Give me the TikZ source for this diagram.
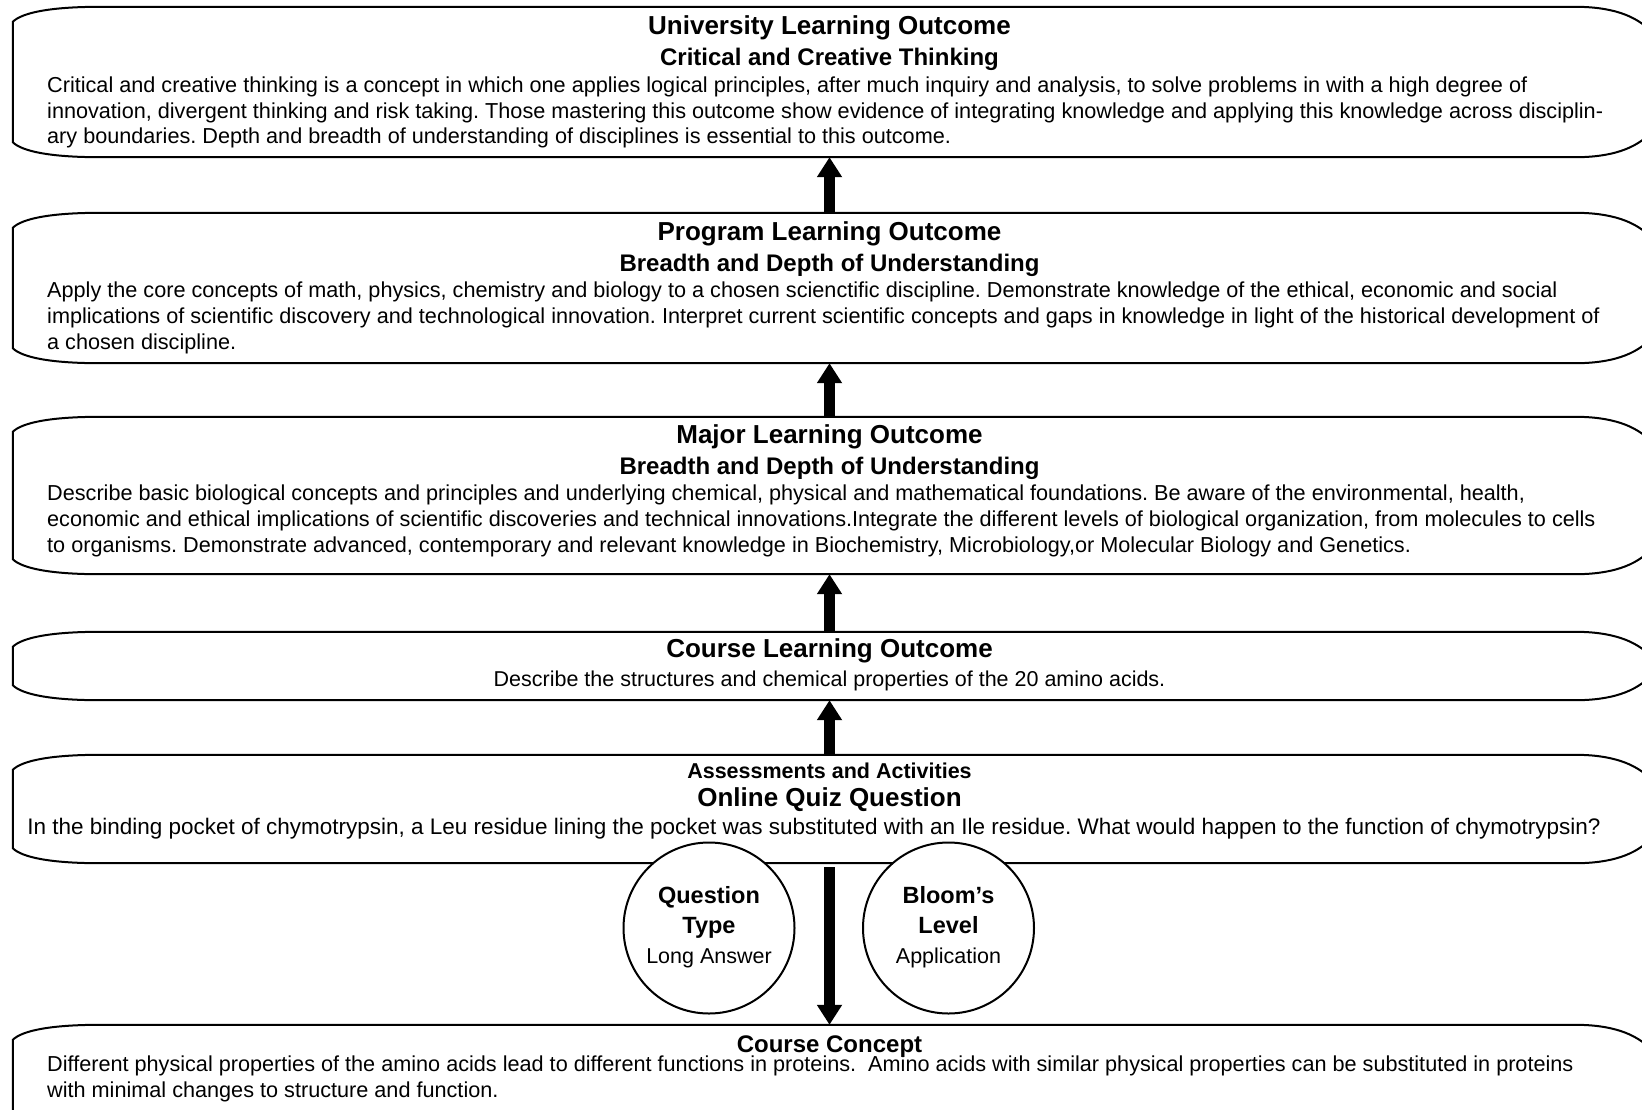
\documentclass[tikz,border=0pt]{standalone}
\usepackage{fontspec}
\setmainfont{Liberation Sans}
\usetikzlibrary{arrows.meta}
\frenchspacing
\tikzset{
  boxarea/.style={draw=none, inner sep=0, minimum width=1633pt},
  boxline/.style={draw=black, line width=2pt, fill=white},
  ttl/.style={font=\bfseries\fontsize{26}{30}\selectfont, inner sep=0, anchor=base},
  sub/.style={font=\bfseries\fontsize{24}{28}\selectfont, inner sep=0, anchor=base},
  small/.style={font=\bfseries\fontsize{21.5}{26}\selectfont, inner sep=0, anchor=base},
  body/.style={font=\frenchspacing\fontsize{21.65}{25.7}\selectfont, inner sep=0, anchor=base west, align=left},
  bodyc/.style={font=\frenchspacing\fontsize{21.5}{25.7}\selectfont, inner sep=0, anchor=base},
  bigarrow/.style={line width=11pt, -{Triangle[length=20pt,width=24pt]}},
  circ/.style={circle, draw=black, line width=2pt, fill=white, minimum size=171pt, inner sep=0},
  clab/.style={font=\bfseries\fontsize{23.5}{28}\selectfont, inner sep=0, anchor=base},
  cval/.style={font=\fontsize{21.5}{26}\selectfont, inner sep=0, anchor=base},
}
\newcommand\boxnode[3]{%
  \node[boxarea, minimum height={(#3-#2)*1pt}] (#1) at (829.5,{(#2+#3)/2}) {};}
\newcommand\scrollpath[1]{%
  \draw[boxline] ([xshift=87pt]#1.north west) -- ([xshift=-71pt]#1.north east)
   .. controls ([xshift=-36pt]#1.north east) and ([xshift=-10pt,yshift=-8pt]#1.north east) .. ([xshift=6pt,yshift=-26pt]#1.north east)
   -- ([xshift=6pt,yshift=26pt]#1.south east)
   .. controls ([xshift=-10pt,yshift=8pt]#1.south east) and ([xshift=-36pt]#1.south east) .. ([xshift=-71pt]#1.south east)
   -- ([xshift=87pt]#1.south west)
   .. controls ([xshift=37pt]#1.south west) and ([xshift=9pt,yshift=6pt]#1.south west) .. ([yshift=15pt]#1.south west)
   -- ([yshift=-15pt]#1.north west)
   .. controls ([xshift=9pt,yshift=-6pt]#1.north west) and ([xshift=37pt]#1.north west) .. ([xshift=87pt]#1.north west) -- cycle;}
\begin{document}
\begin{tikzpicture}[x=1pt,y=-1pt]
\useasboundingbox[fill=white] (0,0) rectangle (1642,1109);
\begin{scope}
\clip (0,0) rectangle (1642,1109);
\boxnode{b1}{7}{157}
\boxnode{b2}{213}{363}
\boxnode{b3}{417}{574}
\boxnode{b4}{632}{700}
\boxnode{b5}{755}{863}
\boxnode{b6}{1025}{1160}
\scrollpath{b1}
\scrollpath{b2}
\scrollpath{b3}
\scrollpath{b4}
\scrollpath{b5}
\scrollpath{b6}

\draw[bigarrow] (b2.north) -- (b1.south);
\draw[bigarrow] (b3.north) -- (b2.south);
\draw[bigarrow] (b4.north) -- (b3.south);
\draw[bigarrow] (b5.north) -- (b4.south);
\draw[bigarrow] ([yshift=-4pt]b5.south) -- (b6.north);

\node[circ] (qt) at (709,928) {};
\node[circ] (bl) at (948.5,928) {};
\end{scope}

% box 1
\node[ttl] (t1) at (829.5,34) {University Learning Outcome};
\node[sub] (s1) at (829.5,65) {Critical and Creative Thinking};
\node[body] (d1) at (47,143.9) {Critical and creative thinking is a concept in which one applies logical principles, after much inquiry and analysis, to solve problems in with a high degree of\\
innovation, divergent thinking and risk taking. Those mastering this outcome show evidence of integrating knowledge and applying this knowledge across disciplin-\\
ary boundaries. Depth and breadth of understanding of disciplines is essential to this outcome.};

% box 2
\node[ttl] (t2) at (829.5,240.5) {Program Learning Outcome};
\node[sub] (s2) at (829.5,271.3) {Breadth and Depth of Understanding};
\node[body] (d2) at (47,349) {Apply the core concepts of math, physics, chemistry and biology to a chosen scienctific discipline. Demonstrate knowledge of the ethical, economic and social\\
implications of scientific discovery and technological innovation. Interpret current scientific concepts and gaps in knowledge in light of the historical development of\\
a chosen discipline.};

% box 3
\node[ttl] (t3) at (829.5,443.6) {Major Learning Outcome};
\node[sub] (s3) at (829.5,474.5) {Breadth and Depth of Understanding};
\node[body] (d3) at (47,552.1) {Describe basic biological concepts and principles and underlying chemical, physical and mathematical foundations. Be aware of the environmental, health,\\
economic and ethical implications of scientific discoveries and technical innovations.Integrate the different levels of biological organization, from molecules to cells\\
to organisms. Demonstrate advanced, contemporary and relevant knowledge in Biochemistry, Microbiology,or Molecular Biology and Genetics.};

% box 4
\node[ttl] (t4) at (829.5,657.2) {Course Learning Outcome};
\node[bodyc] (d4) at (829.5,686.1) {Describe the structures and chemical properties of the 20 amino acids.};

% box 5
\node[small] (t5) at (829.5,778.2) {Assessments and Activities};
\node[ttl] (s5) at (829.5,806) {Online Quiz Question};
\node[bodyc, font=\frenchspacing\fontsize{22.5}{26}\selectfont] (d5) at (814,834.8) {In the binding pocket of chymotrypsin, a Leu residue lining the pocket was substituted with an Ile residue. What would happen to the function of chymotrypsin?};

% circles
\node[clab] (q1) at (709,903.6) {Question};
\node[clab] (q2) at (709,933) {Type};
\node[cval] (q3) at (709,963.6) {Long Answer};
\node[clab] (l1) at (948.5,903.6) {Bloom’s};
\node[clab] (l2) at (948.5,933) {Level};
\node[cval] (l3) at (948.5,963.6) {Application};

% box 6
\node[sub] (t6) at (829.5,1052.4) {Course Concept};
\node[body] (d6) at (47,1097.2) {Different physical properties of the amino acids lead to different functions in proteins.\ \ Amino acids with similar physical properties can be substituted in proteins\\
with minimal changes to structure and function.};
\end{tikzpicture}
\end{document}
